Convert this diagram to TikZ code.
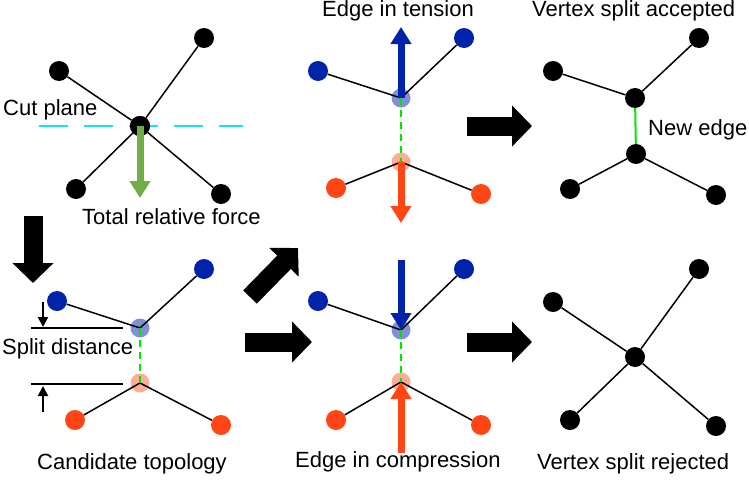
\documentclass[tikz,border=0pt]{standalone}
\usepackage{fontspec}
\setmainfont{Liberation Sans}
\usetikzlibrary{arrows.meta}
\definecolor{vblue}{RGB}{0,35,170}
\definecolor{vred}{RGB}{255,70,20}
\definecolor{forcegreen}{RGB}{112,173,71}
\definecolor{newgreen}{RGB}{0,230,0}
\definecolor{cutcyan}{RGB}{20,230,230}

\begin{document}
\begin{tikzpicture}[x=1pt,y=-1pt,
        vtx/.style={circle,fill=black,inner sep=0pt,minimum size=20pt},
        bvtx/.style={vtx,fill=vblue},
        rvtx/.style={vtx,fill=vred},
        gbvtx/.style={circle,inner sep=0pt,minimum size=19pt,fill=vblue,fill opacity=0.5},
        grvtx/.style={circle,inner sep=0pt,minimum size=19pt,fill=vred,fill opacity=0.45},
        edge/.style={line width=1.5pt},
        splitedge/.style={newgreen,line width=1.5pt,dash pattern=on 7pt off 5pt},
        lbl/.style={anchor=base west,inner sep=0pt,font=\fontsize{22}{26}\selectfont},
        bigarrow/.style={line width=19pt,-{Triangle[length=20pt,width=40pt]}},
        force/.style={line width=7pt,-{Triangle[length=17pt,width=20pt]}},
        tick/.style={line width=2pt,-{Triangle[length=10pt,width=10pt]}}]
        \useasboundingbox (0,0) rectangle (749,482);

        \node[vtx] (c1) at (140,126) {};
        \node[vtx] (a1) at (59,71) {};
        \node[vtx] (b1) at (204,38) {};
        \node[vtx] (d1) at (76,189) {};
        \node[vtx] (e1) at (221,194) {};
        \draw[edge] (c1) -- (a1) (c1) -- (b1) (c1) -- (d1) (c1) -- (e1);
        \coordinate (cutL) at (39,126);
        \coordinate (cutR) at (243,126);
        \draw[cutcyan,line width=2pt,dash pattern=on 29pt off 16pt] (cutL) -- (cutR);
        \node[vtx] at (c1) {};
        \coordinate (f1) at (140,198);
        \draw[force,forcegreen] (c1.center) -- (f1);
        \node[lbl] (cutlbl) at (3,115) {Cut plane};
        \node[lbl] (forcelbl) at (82,224) {Total relative force};

        \node[gbvtx] (u2) at (140,328) {};
        \node[grvtx] (l2) at (140,383) {};
        \node[bvtx] (a2) at (57,301) {};
        \node[bvtx] (b2) at (204,269) {};
        \node[rvtx] (d2) at (75,420) {};
        \node[rvtx] (e2) at (221,425) {};
        \draw[edge] (u2.center) -- (a2) (u2.center) -- (b2) (l2.center) -- (d2) (l2.center) -- (e2);
        \draw[splitedge] (u2.center) -- (l2.center);
        \coordinate (s1) at (31,328);
        \coordinate (s2) at (123,328);
        \coordinate (s3) at (31,384);
        \coordinate (s4) at (123,384);
        \draw[line width=2.5pt] (s1) -- (s2) (s3) -- (s4);
        \coordinate (t1) at (43,302);
        \coordinate (t2) at (43,412);
        \draw[tick] (t1) -- (43,327);
        \draw[tick] (t2) -- (43,386);
        \node[lbl] (splitlbl) at (2,354) {Split distance};
        \node[lbl] (candlbl) at (37,469) {Candidate topology};

        \node[gbvtx] (u3) at (401,98) {};
        \node[grvtx] (l3) at (401,162) {};
        \node[bvtx] (a3) at (318,71) {};
        \node[bvtx] (b3) at (464,38) {};
        \node[rvtx] (d3) at (336,188) {};
        \node[rvtx] (e3) at (481,194) {};
        \draw[edge] (u3.center) -- (a3) (u3.center) -- (b3) (l3.center) -- (d3) (l3.center) -- (e3);
        \draw[splitedge] (u3.center) -- (l3.center);
        \coordinate (f3u) at (401,27);
        \coordinate (f3d) at (401,223);
        \draw[force,vblue] (u3.center) -- (f3u);
        \draw[force,vred] (l3.center) -- (f3d);
        \node[lbl] (tenslbl) at (322,16) {Edge in tension};

        \node[gbvtx] (u4) at (401,330) {};
        \node[grvtx] (l4) at (401,382) {};
        \node[bvtx] (a4) at (318,301) {};
        \node[bvtx] (b4) at (464,269) {};
        \node[rvtx] (d4) at (336,420) {};
        \node[rvtx] (e4) at (481,425) {};
        \draw[edge] (u4.center) -- (a4) (u4.center) -- (b4) (l4.center) -- (d4) (l4.center) -- (e4);
        \draw[splitedge] (u4.center) -- (l4.center);
        \coordinate (f4u) at (401,260);
        \coordinate (f4d) at (401,453);
        \draw[force,vblue] (f4u) -- (u4.center);
        \draw[force,vred] (f4d) -- (l4.center);
        \node[lbl] (complbl) at (295,467) {Edge in compression};

        \node[vtx] (u5) at (635,98) {};
        \node[vtx] (l5) at (636,154) {};
        \node[vtx] (a5) at (553,71) {};
        \node[vtx] (b5) at (699,38) {};
        \node[vtx] (d5) at (570,189) {};
        \node[vtx] (e5) at (716,195) {};
        \draw[edge] (u5) -- (a5) (u5) -- (b5) (l5) -- (d5) (l5) -- (e5);
        \draw[newgreen,line width=2pt] (u5) -- (l5);
        \node[lbl] (acclbl) at (532,16) {Vertex split accepted};
        \node[lbl] (newlbl) at (648,135) {New edge};

        \node[vtx] (c6) at (635,357) {};
        \node[vtx] (a6) at (553,302) {};
        \node[vtx] (b6) at (699,269) {};
        \node[vtx] (d6) at (570,420) {};
        \node[vtx] (e6) at (716,426) {};
        \draw[edge] (c6) -- (a6) (c6) -- (b6) (c6) -- (d6) (c6) -- (e6);
        \node[lbl] (rejlbl) at (537,469) {Vertex split rejected};

        \coordinate (p1) at (33,216);
        \coordinate (p2) at (33,283);
        \coordinate (p3) at (250,297);
        \coordinate (p4) at (298,248);
        \coordinate (p5) at (245,342);
        \coordinate (p6) at (312,342);
        \coordinate (p7) at (467,126);
        \coordinate (p8) at (532,126);
        \coordinate (p9) at (467,342);
        \coordinate (p10) at (532,342);
        \draw[bigarrow] (p1) -- (p2);
        \draw[bigarrow] (p3) -- (p4);
        \draw[bigarrow] (p5) -- (p6);
        \draw[bigarrow] (p7) -- (p8);
        \draw[bigarrow] (p9) -- (p10);
    \end{tikzpicture}
\end{document}
